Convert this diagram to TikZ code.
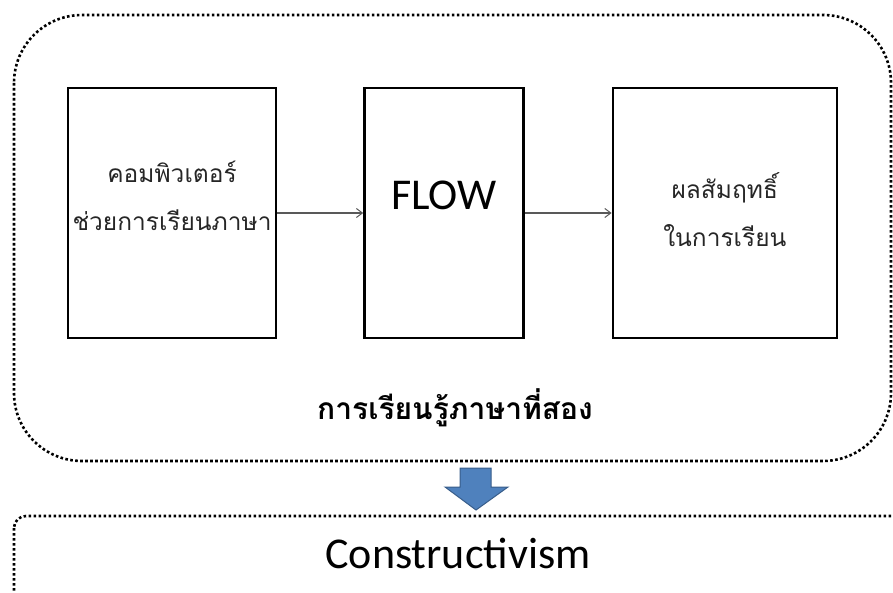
\documentclass[tikz,border=0pt]{standalone}
\usepackage{fontspec}
\setmainfont{Carlito}
\newfontfamily\thaifont[Script=Thai]{Loma}
\usepackage{tikz}
\usetikzlibrary{positioning,arrows.meta}
\definecolor{blk}{HTML}{000000}
\definecolor{txtg}{HTML}{262626}
\definecolor{lnk}{HTML}{595959}
\definecolor{arrfill}{HTML}{4F81BD}
\definecolor{arrline}{HTML}{385D8A}
\tikzset{
  box/.style={draw=blk, line width=2.4pt, minimum width=208pt, minimum height=250pt, inner sep=0pt},
  thtxt/.style={font=\thaifont\fontsize{24.5}{48}\selectfont, text=txtg, align=center, inner sep=0pt},
  dotbox/.style={draw=blk, line width=2.6pt, dash pattern=on 2.6pt off 2.4pt},
  l/.style={-{Straight Barb[length=6pt,width=9pt,line width=1pt]}, line width=1.3pt, draw=lnk},
}
\begin{document}
\begin{tikzpicture}[x=1pt,y=-1pt]
  \useasboundingbox (0,0) rectangle (893,593);
  \clip (0,0) rectangle (893,593);
  % outer frame and bottom frame
  \draw[dotbox, rounded corners=68pt] (14,15) rectangle (891,461);
  \draw[dotbox, rounded corners=12pt] (14,516) rectangle (910,640);
  % three blocks
  \node[box] (cai) at (172,213) {};
  \node[box, minimum width=159pt, right=86pt of cai] (flow) {};
  \node[box, minimum width=224pt, right=87pt of flow] (ach) {};
  \node[thtxt] (caitxt) at ([yshift=17pt]cai.center) {คอมพิวเตอร์\\ช่วยการเรียนภาษา};
  \node[font=\fontsize{44}{46}\selectfont, inner sep=0pt] (flowtxt) at ([yshift=18pt]flow.center) {FLOW};
  \node[thtxt] (achtxt) at ([yshift=3pt]ach.center) {ผลสัมฤทธิ์\\ในการเรียน};
  \draw[l] (cai.east) -- (flow.west);
  \draw[l] (flow.east) -- (ach.west);
  % labels
  \node[font=\thaifont\bfseries\fontsize{30}{34}\selectfont, inner sep=0pt] (sla) at (455,408) {การเรียนรู้ภาษาที่สอง};
  \node[font=\fontsize{44}{46}\selectfont, inner sep=0pt] (cons) at (458,553) {Constructivism};
  % block arrow
  \draw[fill=arrfill, draw=arrline, line width=1pt]
    (460,468) -- (491,468) -- (491,487) -- (508,487) -- (476,510) -- (445,487) -- (460,487) -- cycle;
\end{tikzpicture}
\end{document}
